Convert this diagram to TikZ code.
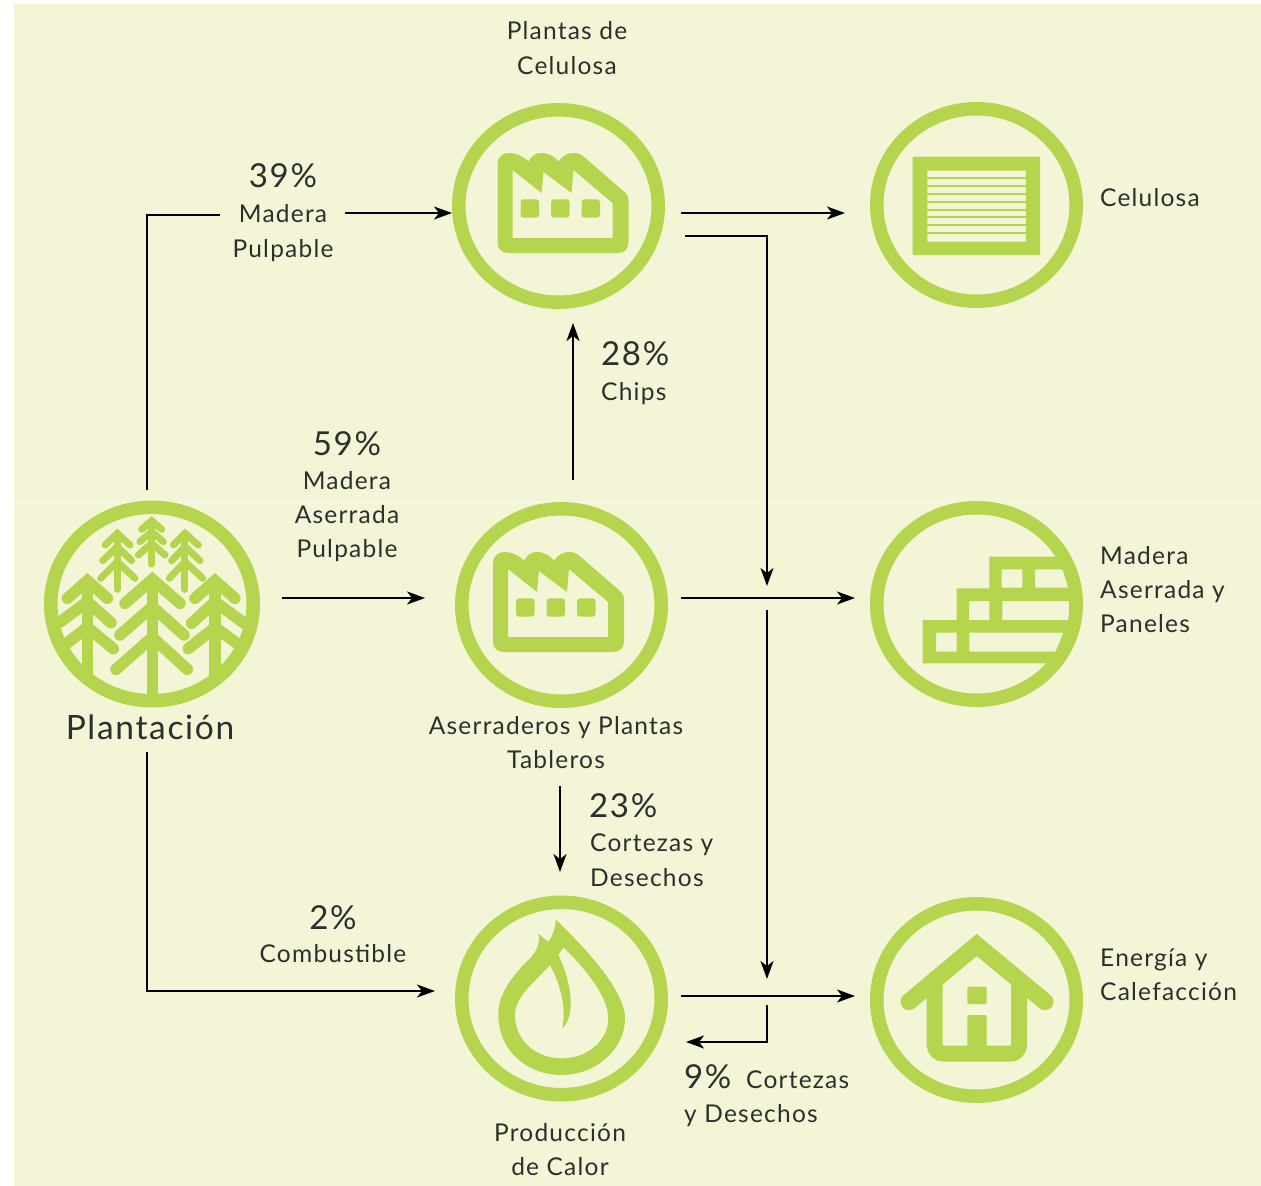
\documentclass[tikz,border=0pt]{standalone}
\usepackage{fontspec}
\setmainfont[LetterSpace=5]{Lato}
\usetikzlibrary{arrows.meta,shapes.geometric}

\definecolor{paper}{HTML}{F3F5D6}
\definecolor{seam}{HTML}{F8F9E6}
\definecolor{leaf}{HTML}{B5D54E}
\definecolor{ink}{HTML}{2E2E2E}

\tikzset{
    ring/.style={ellipse,draw=leaf,line width=13.5,minimum width=199.5,minimum height=192.5,inner sep=0},
    flow/.style={draw=black,line width=1.8,-{Stealth[length=18,width=13,inset=5]}},
    flowline/.style={draw=black,line width=1.8},
    txt/.style={text=ink,inner sep=0,font=\fontsize{24.5}{34}\selectfont},
    txtwide/.style={text=ink,inner sep=0,font=\fontsize{24.5}{35}\selectfont},
    pct/.style={text=ink,inner sep=0,font=\fontsize{33}{38}\selectfont},
    bigbranch/.style={draw=leaf,line width=11.5,line cap=round,line join=miter},
    smallbranch/.style={draw=leaf,line width=7,line cap=round,line join=miter},
    pics/factoryicon/.style={code={
        \fill[leaf,even odd rule]
            (-50,47) .. controls (-57,47) and (-61,43) .. (-61,36) -- (-61,-42)
            .. controls (-61,-49) and (-56,-53) .. (-49,-53)
            .. controls (-42,-53) and (-36,-50) .. (-30,-44.5)
            .. controls (-27,-50) and (-23,-53) .. (-17,-53)
            .. controls (-9,-53) and (-4,-49) .. (0,-44.5)
            .. controls (4,-50) and (9,-53) .. (15,-53)
            .. controls (19,-53) and (22,-52) .. (25,-49.5)
            -- (66,-14) .. controls (69,-11) and (70,-9) .. (70,-5) -- (70,36)
            .. controls (70,43) and (66,47) .. (59,47) -- cycle
            (-46,32) -- (-46,-36) -- (-17,-13) -- (-15,-34) -- (13,-13) -- (15,-36)
            -- (54,-3) -- (54,32) -- cycle;
        \foreach \wx in {-38,-7.5,23}
            \fill[leaf,rounded corners=3] (\wx,-6.7) rectangle ++(18.5,18.4);
    }},
}

\begin{document}
\begin{tikzpicture}[x=1pt,y=-1pt]
    \useasboundingbox (0,0) rectangle (1261,1186);
    \fill[paper] (14,4) rectangle (1261,1186);
    \draw[seam,line width=1] (14,502) -- (1261,502);

    % circles
    \node[ring,minimum width=202.5,minimum height=193.5] (plantacion) at (152,604) {};
    \node[ring] (plantas) at (558.5,206) {};
    \node[ring] (aserradero) at (561.5,605) {};
    \node[ring] (calor) at (561.5,998.5) {};
    \node[ring] (celulosa) at (976.5,205) {};
    \node[ring] (madera) at (976.5,604) {};
    \node[ring] (energia) at (976.5,1000) {};

    % labels
    \node[txtwide,align=center] (tplantas) at (567,48) {Plantas de\\Celulosa};
    \node[pct] (p39) at (283,176) {39\%};
    \node[txtwide,align=center] (tpulpable) at (283,233) {Madera\\Pulpable};
    \node[pct,anchor=west] (p28) at (601,354) {28\%};
    \node[txt,anchor=west] (tchips) at (601,393.5) {Chips};
    \node[pct] (p59) at (347,444) {59\%};
    \node[txt,align=center] (taserrada) at (347,516.5) {Madera\\Aserrada\\Pulpable};
    \node[txt,font=\fontsize{33.5}{38}\selectfont] (tplantacion) at (150,727) {Plantación};
    \node[txt,align=center] (taserraderos) at (556,743) {Aserraderos y Plantas\\Tableros};
    \node[pct,anchor=west] (p23) at (589,806) {23\%};
    \node[txtwide,align=left,anchor=west] (tcortezas) at (590,860) {Cortezas y\\Desechos};
    \node[pct] (p2) at (333,918) {2\%};
    \node[txt] (tcombustible) at (333,954) {Combustible};
    \node[txt,align=center] (tproduccion) at (560,1150) {Producción\\de Calor};
    \node[pct,anchor=west] (p9) at (684,1077) {9\%};
    \node[txt,anchor=west] (tcort) at (746,1080) {Cortezas};
    \node[txt,anchor=west] (tdesechos) at (684,1115.5) {y Desechos};
    \node[txt,anchor=west] (tcelulosa) at (1100,198) {Celulosa};
    \node[txt,align=left,anchor=west] (tmadera) at (1100,590) {Madera\\Aserrada y\\Paneles};
    \node[txt,align=left,anchor=west] (tenergia) at (1100,974.5) {Energía y\\Calefacción};

    % free ends of the connectors
    \coordinate (plantup) at (147,490);
    \coordinate (pulpin) at (220,215);
    \coordinate (pulpout) at (345,213);
    \coordinate (plantasa) at (681,213);
    \coordinate (celin) at (845,213);
    \coordinate (plantasb) at (685,236);
    \coordinate (joinmid) at (767,586);
    \coordinate (chipsa) at (573,480);
    \coordinate (chipsb) at (573,323);
    \coordinate (plantright) at (282,598);
    \coordinate (aserin) at (425,598);
    \coordinate (aserout) at (681,598);
    \coordinate (maderain) at (855,598);
    \coordinate (downa) at (767,610);
    \coordinate (downb) at (767,979);
    \coordinate (cortza) at (560,786);
    \coordinate (cortzb) at (560,872);
    \coordinate (plantdown) at (147,752);
    \coordinate (calorin) at (435,991);
    \coordinate (calorout) at (681,996);
    \coordinate (energiain) at (855,996);
    \coordinate (backa) at (767,1005);
    \coordinate (backb) at (686,1042);

    % connectors
    \draw[flowline] (plantup) |- (pulpin);
    \draw[flow] (pulpout) -- (pulpout -| plantas.west);
    \draw[flow] (plantasa) -- (celin);
    \draw[flow] (plantasb) -| (joinmid);
    \draw[flow] (chipsa) -- (chipsb);
    \draw[flow] (plantright) -- (aserin);
    \draw[flow] (aserout) -- (maderain);
    \draw[flow] (downa) -- (downb);
    \draw[flow] (cortza) -- (cortzb);
    \draw[flow] (plantdown) |- (calorin);
    \draw[flow] (calorout) -- (energiain);
    \draw[flow] (backa) |- (backb);

    % factories
    \pic at (558.5,206) {factoryicon};
    \pic at (554,605) {factoryicon};

    % pulp sheet
    \fill[leaf,even odd rule] (912.7,156.7) rectangle (1040,255) (927.3,170.7) rectangle (1026,241.7);
    \foreach \i in {0,...,7}
        \draw[leaf,line width=2] (927.3,178.3+7.8*\i) -- (1026,178.3+7.8*\i);

    % boards
    \fill[leaf,even odd rule]
        (922.7,663.3) -- (922.7,620) -- (956.7,620) -- (956.7,588.3) -- (989.3,588.3) -- (989.3,556.7)
        -- (1060,556.7) -- (1073,590) -- (1073,617) -- (1063,647) -- (1048,663.3) -- cycle
        (1001.7,569.3) rectangle (1022.3,587.7)
        (1035,569.3) -- (1063.3,569.3) -- (1068.3,587.7) -- (1035,587.7) -- cycle
        (969,601) rectangle (989.3,620)
        (1002.3,601) rectangle (1069,620)
        (936,632.7) rectangle (956.7,651.7)
        (969.3,632.7) -- (1063.3,632.7) -- (1055.7,651.7) -- (969.3,651.7) -- cycle;

    % house
    \draw[leaf,line width=17,line cap=round,line join=miter] (909,1001.7) -- (976.7,945) -- (1045,1001.7);
    \draw[leaf,line width=16,rounded corners=9] (934.7,985) -- (934.7,1053.7) -- (1019,1053.7) -- (1019,985);
    \fill[leaf,rounded corners=2] (967.3,1015) rectangle (986.7,1050);
    \fill[leaf,rounded corners=2] (967.3,986.7) rectangle (986.7,1004);

    % flame
    \begin{scope}[shift={(445,890)},x=0.3333pt,y=-0.3333pt]
        \fill[leaf,even odd rule]
            (332,88) .. controls (385,140) and (540,290) .. (540,385)
            .. controls (540,480) and (450,555) .. (350,555)
            .. controls (245,555) and (160,480) .. (160,375)
            .. controls (160,310) and (200,265) .. (235,225)
            .. controls (260,200) and (290,175) .. (280,130)
            .. controls (290,140) and (300,148) .. (310,155)
            .. controls (325,135) and (332,110) .. (332,88) -- cycle
            (315,225) .. controls (345,280) and (365,350) .. (352,415)
            .. controls (385,385) and (390,300) .. (340,195) -- (355,172)
            .. controls (400,215) and (490,310) .. (490,385)
            .. controls (490,450) and (430,505) .. (350,505)
            .. controls (270,505) and (210,450) .. (210,375)
            .. controls (210,320) and (265,280) .. (315,225) -- cycle;
    \end{scope}

    % trees
    \begin{scope}[shift={(30,490)},x=0.3333pt,y=-0.3333pt]
        % big ones
        \draw[bigbranch] (367,280) -- (367,612);
        \draw[bigbranch] (285,340) -- (367,268) -- (450,340);
        \draw[bigbranch] (270,435) -- (367,350) -- (462,435);
        \draw[bigbranch] (258,538) -- (367,442) -- (472,538);
        \draw[bigbranch] (172,280) -- (172,560);
        \draw[bigbranch] (112,325) -- (172,272) -- (232,325);
        \draw[bigbranch] (92,395) -- (172,335) -- (243,398);
        \draw[bigbranch] (100,468) -- (172,412) -- (250,476);
        \draw[bigbranch] (555,280) -- (555,560);
        \draw[bigbranch] (495,325) -- (555,272) -- (615,325);
        \draw[bigbranch] (485,400) -- (555,335) -- (640,398);
        \draw[bigbranch] (475,476) -- (555,412) -- (632,468);
        % small ones
        \draw[smallbranch] (262,135) -- (262,298);
        \draw[smallbranch] (225,165) -- (262,130) -- (300,165);
        \draw[smallbranch] (218,212) -- (262,170) -- (305,212);
        \draw[smallbranch] (212,265) -- (262,215) -- (315,265);
        \draw[smallbranch] (365,95) -- (365,222);
        \draw[smallbranch] (335,118) -- (365,92) -- (395,118);
        \draw[smallbranch] (330,155) -- (365,125) -- (400,155);
        \draw[smallbranch] (325,195) -- (365,160) -- (405,195);
        \draw[smallbranch] (465,135) -- (465,298);
        \draw[smallbranch] (430,165) -- (465,130) -- (505,165);
        \draw[smallbranch] (425,212) -- (465,170) -- (510,212);
        \draw[smallbranch] (418,265) -- (465,215) -- (518,265);
    \end{scope}
\end{tikzpicture}
\end{document}
